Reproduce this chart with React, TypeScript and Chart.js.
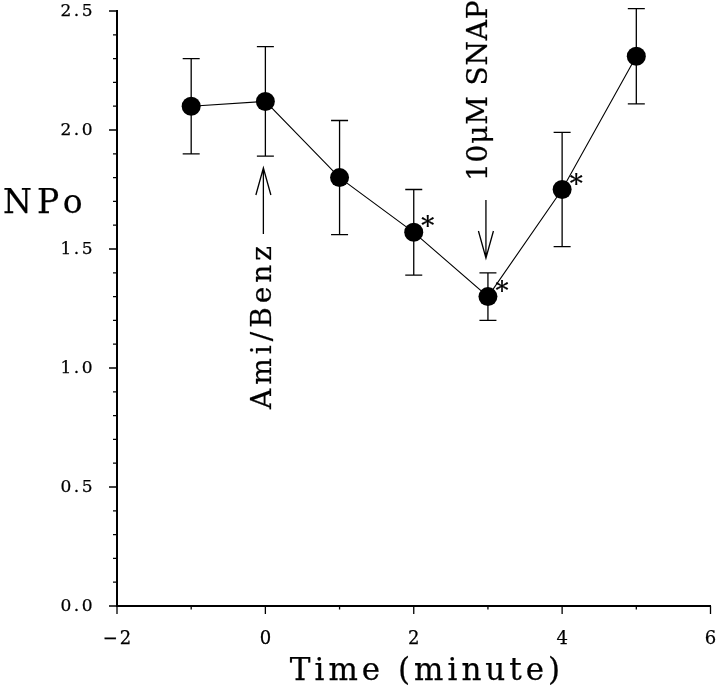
import React, { useEffect, useRef } from "react";
import { Chart, registerables } from "chart.js";

Chart.register(...registerables);

// ---- data ----
const timeMin = [-1, 0, 1, 2, 3, 4, 5];
const npoMean = [2.10, 2.12, 1.80, 1.57, 1.30, 1.75, 2.31];
const npoUpper = [2.30, 2.35, 2.04, 1.75, 1.40, 1.99, 2.51];
const npoLower = [1.90, 1.89, 1.56, 1.39, 1.20, 1.51, 2.11];
const significant = [false, false, false, true, true, true, false];
const treatmentTimes = [0, 3];
const treatmentLabels = ["Ami/Benz", "10μM SNAP"];
const xTickValues = [-2, 0, 2, 4, 6];
const yTickValues = [0, 0.5, 1.0, 1.5, 2.0, 2.5];
const xTitle = "Time (minute)";
const yTitle = "NPo";

const SERIF = "'DejaVu Serif', serif";
const TEXT_STROKE = 0.25;

const fmtX = (v: number) => (v < 0 ? "−" + Math.abs(v) : String(v));
const fmtY = (v: number) => v.toFixed(1);

function text(ctx: any, s: string, x: number, y: number) {
  ctx.fillText(s, x, y);
  ctx.strokeText(s, x, y);
}

const overlay = {
  id: "overlay",
  beforeDatasetsDraw(chart: any) {
    const ctx = chart.ctx;
    const xs = chart.scales.x;
    const ys = chart.scales.y;
    ctx.save();
    ctx.strokeStyle = "#000";
    ctx.lineWidth = 1.3;
    timeMin.forEach((t, i) => {
      const px = xs.getPixelForValue(t);
      const top = ys.getPixelForValue(npoUpper[i]);
      const bot = ys.getPixelForValue(npoLower[i]);
      ctx.beginPath();
      ctx.moveTo(px, top);
      ctx.lineTo(px, bot);
      ctx.moveTo(px - 8.5, top);
      ctx.lineTo(px + 8.5, top);
      ctx.moveTo(px - 8.5, bot);
      ctx.lineTo(px + 8.5, bot);
      ctx.stroke();
    });
    ctx.restore();
  },
  afterDraw(chart: any) {
    const ctx = chart.ctx;
    const xs = chart.scales.x;
    const ys = chart.scales.y;
    const ca = chart.chartArea;
    ctx.save();
    ctx.strokeStyle = "#000";
    ctx.fillStyle = "#000";
    ctx.lineWidth = 1.3;

    // y ticks (major every 0.5, minor every 0.1), outward
    ctx.beginPath();
    for (let k = 0; k <= 25; k++) {
      const py = ys.getPixelForValue(k / 10);
      const len = k % 5 === 0 ? 8 : 4;
      ctx.moveTo(ca.left - len, py);
      ctx.lineTo(ca.left, py);
    }
    // x ticks (major every 2, minor every 1), outward
    for (let v = -2; v <= 6; v++) {
      const px = xs.getPixelForValue(v);
      const len = v % 2 === 0 ? 8 : 3.5;
      ctx.moveTo(px, ca.bottom);
      ctx.lineTo(px, ca.bottom + len);
    }
    ctx.stroke();

    // text gets a thin stroke to mimic the heavier print
    ctx.lineWidth = TEXT_STROKE;

    // tick labels
    ctx.font = `17px ${SERIF}`;
    (ctx as any).letterSpacing = "2.5px";
    ctx.textAlign = "right";
    ctx.textBaseline = "middle";
    yTickValues.forEach((v) => {
      text(ctx, fmtY(v), ca.left - 22, ys.getPixelForValue(v) + 1);
    });
    ctx.font = `18px ${SERIF}`;
    (ctx as any).letterSpacing = "2px";
    ctx.textAlign = "center";
    xTickValues.forEach((v) => {
      text(ctx, fmtX(v), xs.getPixelForValue(v) + 1, ca.bottom + 33);
    });

    // y title
    ctx.font = `33px ${SERIF}`;
    (ctx as any).letterSpacing = "5px";
    ctx.textAlign = "left";
    ctx.textBaseline = "alphabetic";
    text(ctx, yTitle, 3, 213);

    // x title
    ctx.font = `31px ${SERIF}`;
    (ctx as any).letterSpacing = "4px";
    ctx.textAlign = "left";
    const w = ctx.measureText(xTitle).width;
    text(ctx, xTitle, 425 - w / 2 + 2, 680);

    // treatment arrows and labels
    treatmentTimes.forEach((t, i) => {
      const px = xs.getPixelForValue(t) - 2;
      ctx.lineWidth = 1.3;
      ctx.beginPath();
      if (i === 0) {
        const tip = 168, tail = 234;
        ctx.moveTo(px, tail);
        ctx.lineTo(px, tip);
        ctx.moveTo(px - 7.5, tip + 27);
        ctx.lineTo(px, tip);
        ctx.lineTo(px + 7.5, tip + 27);
      } else {
        const tip = 258, tail = 200;
        ctx.moveTo(px, tail);
        ctx.lineTo(px, tip);
        ctx.moveTo(px - 7.5, tip - 27);
        ctx.lineTo(px, tip);
        ctx.lineTo(px + 7.5, tip - 27);
      }
      ctx.stroke();

      ctx.save();
      ctx.lineWidth = TEXT_STROKE;
      ctx.font = `28px ${SERIF}`;
      (ctx as any).letterSpacing = i === 0 ? "4px" : "0.8px";
      ctx.textAlign = "left";
      ctx.textBaseline = "alphabetic";
      if (i === 0) {
        ctx.translate(px + 7.5, 409);
      } else {
        ctx.translate(px + 1.5, 181);
      }
      ctx.rotate(-Math.PI / 2);
      text(ctx, treatmentLabels[i], 0, 0);
      ctx.restore();
    });

    // significance asterisks
    ctx.lineWidth = TEXT_STROKE;
    ctx.font = `26px ${SERIF}`;
    (ctx as any).letterSpacing = "0px";
    ctx.textAlign = "center";
    ctx.textBaseline = "alphabetic";
    timeMin.forEach((t, i) => {
      if (!significant[i]) return;
      const px = xs.getPixelForValue(t) + 14;
      const py = ys.getPixelForValue(npoMean[i]) - 10;
      text(ctx, "*", px, py + 13);
    });

    ctx.restore();
  },
};

export default function App() {
  const ref = useRef<HTMLCanvasElement | null>(null);
  useEffect(() => {
    if (!ref.current) return;
    const chart = new Chart(ref.current, {
      type: "line",
      data: {
        datasets: [
          {
            data: timeMin.map((t, i) => ({ x: t, y: npoMean[i] })),
            borderColor: "#000",
            borderWidth: 1.1,
            backgroundColor: "#000",
            pointBackgroundColor: "#000",
            pointBorderWidth: 0,
            pointRadius: 9.5,
            pointHoverRadius: 9.5,
            fill: false,
            tension: 0,
            clip: false,
          },
        ],
      },
      options: {
        responsive: false,
        maintainAspectRatio: false,
        devicePixelRatio: 1,
        animation: false,
        events: [],
        layout: { padding: { left: 0, right: 7, top: 11, bottom: 0 } },
        plugins: {
          legend: { display: false },
          tooltip: { enabled: false },
          title: { display: false },
        },
        scales: {
          x: {
            type: "linear",
            min: -2,
            max: 6,
            afterFit: (s: any) => {
              s.height = 84;
            },
            ticks: { display: false, stepSize: 1 },
            grid: { display: false },
            border: { display: true, color: "#000", width: 2 },
          },
          y: {
            type: "linear",
            min: 0,
            max: 2.5,
            afterFit: (s: any) => {
              s.width = 117;
            },
            ticks: { display: false, stepSize: 0.5 },
            grid: { display: false },
            border: { display: true, color: "#000", width: 2 },
          },
        },
      },
      plugins: [overlay],
    });
    return () => chart.destroy();
  }, []);
  return (
    <div
      style={{
        position: "absolute",
        left: 0,
        top: 0,
        width: 720,
        height: 690,
        background: "#fff",
      }}
    >
      <canvas ref={ref} width={720} height={690} style={{ display: "block" }} />
    </div>
  );
}
